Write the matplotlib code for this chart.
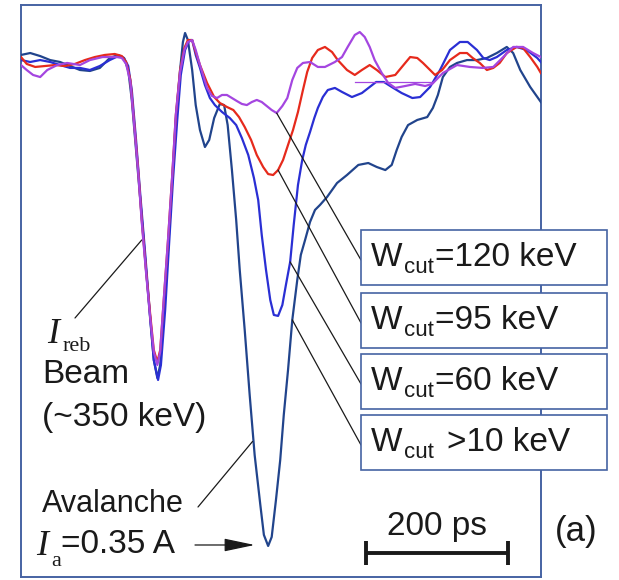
import matplotlib
matplotlib.use("Agg")
import matplotlib.pyplot as plt
import matplotlib.patches as patches

W, H = 619, 580

# time in ps, current in mA
t_w120 = [0, 8, 17, 27, 37, 51, 65, 83, 97, 115, 135, 142, 148, 154, 159, 165, 170, 176,
          182, 187, 192, 196, 201, 207, 213, 218, 224, 230, 235, 241, 246, 252, 262, 269,
          276, 283, 290, 297, 304, 311, 318, 325, 332, 339, 346, 353, 360, 368, 375, 382,
          389, 397, 407, 418, 428, 442, 452, 460, 470, 477, 484, 491, 498, 508, 517, 527,
          541, 555, 569, 579, 594, 614, 632, 650, 665, 679, 693, 707, 721, 732]
i_w120 = [-2.2, -5.8, -9.4, -10.9, -5.8, -2.2, -0.7, -2.2, 1.4, 3.6, 3.6, 2.9, -1.4, -14.5,
          -43.5, -79.7, -115.9, -152.2, -185.5, -210.1, -219.6, -210.1, -172.5, -129.0, -81.9,
          -38.4, -7.2, 8.7, 14.5, 15.9, 8.7, -2.2, -18.8, -24.6, -26.1, -23.9, -23.9, -26.1,
          -28.3, -30.4, -31.2, -29.0, -27.5, -29.0, -31.9, -34.8, -37.0, -31.9, -26.1, -13.0,
          -4.3, -0.7, 0.0, -3.6, -3.6, 0.0, 3.6, 10.9, 19.6, 21.7, 18.1, 10.9, 1.4, -8.0,
          -15.2, -18.8, -17.4, -15.9, -17.4, -15.9, -8.0, -2.2, -3.6, -4.3, -3.6, 3.6, 10.9,
          10.9, 6.5, 3.6]

t_w95 = [0, 8, 20, 34, 48, 62, 76, 90, 104, 118, 132, 142, 148, 154, 159, 165, 170, 176,
         182, 187, 192, 196, 201, 207, 213, 218, 224, 230, 235, 241, 246, 252, 262, 272,
         280, 290, 299, 307, 315, 324, 332, 341, 348, 355, 362, 369, 376, 383, 390, 397,
         403, 410, 418, 428, 438, 446, 459, 470, 480, 491, 501, 513, 527, 541, 548, 558,
         566, 576, 583, 593, 604, 618, 628, 636, 646, 656, 665, 674, 684, 698, 707, 717,
         727, 732]
i_w95 = [3.6, -1.4, -3.6, -2.9, -2.2, -2.9, -1.4, 1.4, 3.6, 5.1, 5.8, 4.3, 0.0, -13.0,
         -42.0, -78.3, -114.5, -150.7, -183.3, -208.7, -217.4, -208.7, -172.5, -129.0, -81.9,
         -38.4, -5.8, 10.1, 15.9, 15.9, 7.2, -2.2, -15.2, -25.4, -29.7, -32.6, -34.8, -39.9,
         -47.1, -56.5, -67.4, -76.1, -81.2, -81.9, -78.3, -71.0, -60.1, -49.3, -36.2, -20.3,
         -7.2, 2.9, 8.7, 10.9, 7.2, 1.4, -5.8, -9.4, -5.8, -2.2, -5.8, -10.9, -9.4, -0.7,
         3.6, 2.9, -0.7, -5.8, -9.4, -5.8, 1.4, 6.5, 6.5, 2.9, -0.7, -5.8, -4.3, -0.7, 6.5,
         10.9, 10.1, 3.6, -3.6, -8.0]

t_w60 = [0, 13, 27, 41, 55, 69, 83, 97, 111, 125, 137, 145, 151, 156, 162, 168, 175, 182,
         187, 193, 197, 203, 208, 214, 220, 225, 231, 237, 241, 246, 252, 259, 266, 273,
         283, 294, 303, 311, 320, 328, 334, 339, 345, 351, 356, 362, 368, 373, 379, 384,
         390, 396, 401, 407, 413, 418, 425, 432, 442, 452, 466, 480, 491, 500, 511, 522,
         536, 551, 562, 576, 590, 604, 618, 629, 642, 651, 660, 670, 684, 698, 712, 727, 732]
i_w60 = [1.4, 0.0, 1.4, 0.0, -2.2, -4.3, -4.3, -5.8, -2.9, 1.4, 4.3, 2.9, -2.9, -20.3,
         -56.5, -96.4, -139.8, -185.5, -216.0, -230.4, -219.6, -179.7, -136.2, -85.5, -42.0,
         -9.4, 8.7, 15.9, 15.9, 5.1, -4.3, -16.7, -26.1, -31.2, -36.2, -40.6, -45.7, -55.1,
         -67.4, -84.1, -100.0, -125.4, -150.7, -172.5, -183.3, -184.0, -176.1, -161.6, -144.9,
         -118.1, -89.1, -71.0, -60.1, -50.7, -40.6, -33.3, -25.4, -20.3, -18.8, -21.7, -25.4,
         -22.5, -18.1, -14.5, -14.5, -18.1, -22.5, -26.1, -25.4, -18.1, -5.8, 8.7, 14.5,
         14.5, 8.7, 2.9, 1.4, 3.6, 8.7, 10.9, 8.7, 2.9, 0.0]

t_w10 = [0, 13, 27, 41, 55, 69, 83, 97, 111, 125, 137, 145, 151, 156, 162, 168, 175, 182,
         187, 192, 196, 201, 207, 213, 218, 224, 228, 231, 235, 241, 246, 252, 259, 265,
         272, 280, 286, 291, 297, 303, 308, 315, 322, 329, 337, 342, 348, 353, 359, 365,
         370, 376, 382, 389, 394, 400, 407, 414, 421, 431, 445, 459, 475, 489, 501, 513,
         522, 529, 536, 545, 558, 572, 580, 587, 594, 604, 614, 628, 642, 656, 670, 684,
         693, 703, 717, 732]
i_w10 = [5.1, 6.5, 4.3, 1.4, 0.0, -2.9, -5.8, -6.5, -4.3, 2.9, 5.1, 2.9, -5.8, -27.5,
         -63.8, -100.0, -143.5, -186.9, -216.0, -229.0, -219.6, -179.7, -136.2, -85.5, -42.0,
         -5.8, 14.5, 21.0, 15.9, -5.8, -31.2, -49.3, -61.6, -56.5, -40.6, -30.4, -31.2,
         -45.7, -78.3, -114.5, -150.7, -194.2, -241.3, -284.8, -321.0, -342.7, -350.7,
         -344.2, -317.4, -288.4, -255.8, -223.2, -186.9, -158.0, -139.8, -129.0, -115.9,
         -107.2, -103.6, -97.8, -87.7, -81.9, -74.6, -73.2, -76.1, -78.3, -74.6, -63.8, -54.3,
         -45.7, -42.0, -39.9, -33.3, -23.9, -10.9, -3.6, -0.7, 1.4, 1.4, 2.9, 6.5, 10.9, 6.5,
         -5.8, -18.1, -29.0]

# faint straight segment that shows in the 120 keV trace
t_seg = [470, 580]
i_seg = [-14.5, -14.5]

label_vals = ["=120 keV", "=95 keV", "=60 keV", ">10 keV"]
label_gap = [0, 0, 0, 12]
# point on each trace the pointer line starts from
pointer_t = [360, 362, 379, 382]
pointer_i = [-37.0, -78.3, -144.9, -186.9]

scale_start = 486
scale_len = 200
scale_level = -356

plt.rcParams["font.family"] = ["Liberation Sans", "DejaVu Sans"]

frame_color = "#4663a3"
ink = "#1a1a1a"
fs = 24

fig = plt.figure(figsize=(W / 100, H / 100), dpi=100)
ax = fig.add_axes([21 / W, 3 / H, 520 / W, 572 / H])
ax.set_xlim(0, 732.2)
ax.set_ylim(-373.2, 41.3)
ax.set_xticks([])
ax.set_yticks([])
for s in ax.spines.values():
    s.set_color(frame_color)
    s.set_linewidth(1.4)

ax.plot(t_w10, i_w10, color="#21448c", lw=1.6, zorder=3)
ax.plot(t_w60, i_w60, color="#2a2fd4", lw=1.6, zorder=3)
ax.plot(t_w95, i_w95, color="#e62a1c", lw=1.6, zorder=4)
ax.plot(t_w120, i_w120, color="#a446e0", lw=1.6, zorder=5)
ax.plot(t_seg, i_seg, color="#a446e0", lw=0.9, zorder=5)


def fx(x):
    return x / W


def fy(y):
    return 1 - y / H


def put(x, y, s, size=fs, **kw):
    fig.text(fx(x), fy(y), s, fontsize=size, color=ink, va="baseline", **kw)


# label boxes sticking out past the right edge of the frame
box_tops = [230, 293, 354, 415]
for k, top in enumerate(box_tops):
    rect = patches.Rectangle((fx(361), fy(top + 55)), 246 / W, 55 / H,
                             transform=fig.transFigure, facecolor="white",
                             edgecolor=frame_color, lw=1.2, zorder=10)
    fig.add_artist(rect)
    put(371, top + 36, "W", zorder=11)
    put(404, top + 43, "cut", size=16, zorder=11)
    put(435 + label_gap[k], top + 36, label_vals[k], zorder=11)
    ax.annotate("", xy=(pointer_t[k], pointer_i[k]), xycoords="data",
                xytext=(361, H - (top + 30)), textcoords="figure pixels",
                arrowprops=dict(arrowstyle="-", color=ink, lw=0.9,
                                shrinkA=0, shrinkB=0), zorder=6)

# left-hand annotations
put(47, 343, "I", size=26, family="Liberation Serif", style="italic")
put(63, 351, "reb", size=16, family="Liberation Serif")
put(42, 383, "Beam")
put(42, 426, "(~350 keV)")
ax.annotate("", xy=(170, -129), xycoords="data", xytext=(75, H - 318),
            textcoords="figure pixels",
            arrowprops=dict(arrowstyle="-", color=ink, lw=0.9, shrinkA=0, shrinkB=0))

put(42, 512, "Avalanche", size=22)
ax.annotate("", xy=(326, -275), xycoords="data", xytext=(198, H - 507),
            textcoords="figure pixels",
            arrowprops=dict(arrowstyle="-", color=ink, lw=0.9, shrinkA=0, shrinkB=0))
put(36, 555, "I", size=26, family="Liberation Serif", style="italic")
put(51, 566, "a", size=16, family="Liberation Serif")
put(61, 553, "=0.35 A")
ax.annotate("", xy=(329, -350), xycoords="data", xytext=(195, H - 545),
            textcoords="figure pixels",
            arrowprops=dict(arrowstyle="-|>,head_length=0.95,head_width=0.2",
                            mutation_scale=20, color=ink, lw=0.9,
                            shrinkA=0, shrinkB=0))

# 200 ps scale bar
ax.plot([scale_start, scale_start + scale_len], [scale_level, scale_level],
        color=ink, lw=2.8, solid_capstyle="butt")
ax.plot([scale_start, scale_start + scale_len], [scale_level, scale_level],
        ls="none", marker="|", markersize=17, markeredgewidth=2.8, color=ink)
put(437, 535, "200 ps", ha="center")
put(555, 541, "(a)", size=25)

fig.savefig("out.png", dpi=100)
